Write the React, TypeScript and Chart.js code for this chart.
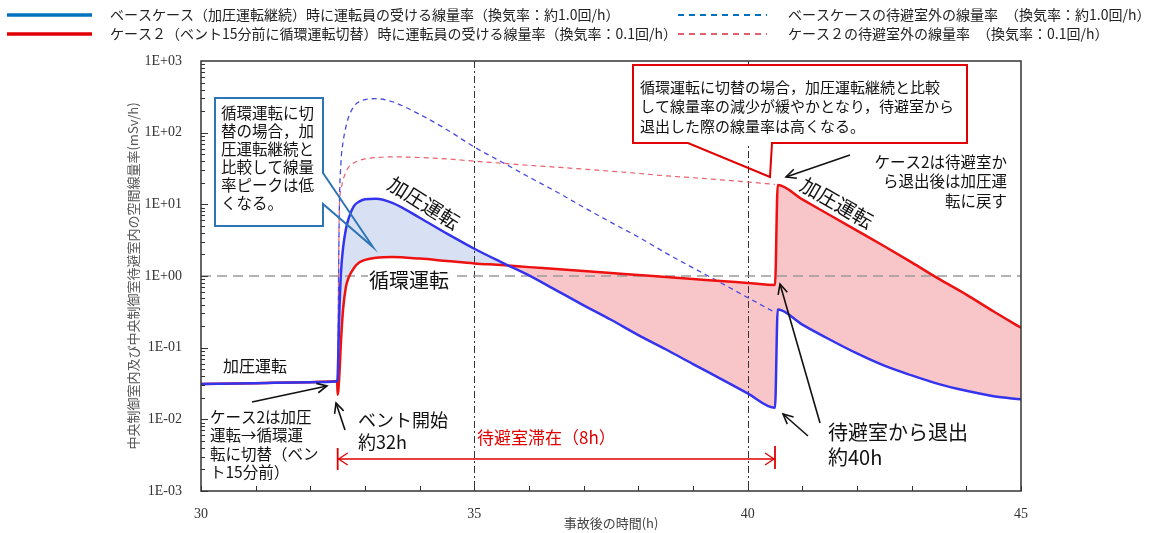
import React, { useEffect, useRef } from "react";
import { Chart, registerables } from "chart.js";

Chart.register(...registerables);

// ---- data (hours after accident, dose rate mSv/h) ----
const hours = [30, 31, 32, 32.49, 32.5, 32.53, 32.56, 32.6, 32.65, 32.7, 32.8, 32.9, 33.0, 33.2, 33.5, 34.0, 34.5, 35.0, 35.5, 36.0, 36.5, 37.0, 37.5, 38.0, 38.5, 39.0, 39.5, 40.0, 40.5, 40.55, 41.0, 41.5, 42.0, 42.5, 43.0, 43.5, 44.0, 44.5, 45.0];

const baseCaseInside = [0.031, 0.032, 0.033, 0.034, 0.04, 0.3, 1.1, 2.5, 4.5, 6.3, 9.5, 11, 11.8, 12.0, 10.5, 6.5, 3.9, 2.4, 1.55, 1.02, 0.63, 0.39, 0.245, 0.15, 0.095, 0.059, 0.037, 0.023, 0.0145, 0.34, 0.21, 0.13, 0.083, 0.056, 0.041, 0.031, 0.025, 0.021, 0.019];

const case2Inside = [0.031, 0.032, 0.033, 0.034, 0.022, 0.04, 0.12, 0.35, 0.7, 0.95, 1.3, 1.55, 1.68, 1.8, 1.84, 1.75, 1.62, 1.5, 1.42, 1.33, 1.25, 1.17, 1.1, 1.03, 0.97, 0.91, 0.85, 0.8, 0.75, 18.6, 11.7, 7.1, 4.3, 2.6, 1.55, 0.91, 0.55, 0.32, 0.19];

const baseCaseOutside = [null, null, null, null, 0.034, 8, 38, 75, 120, 165, 235, 272, 290, 298, 270, 180, 110, 63, 39, 24, 15, 9.1, 5.6, 3.5, 2.1, 1.3, 0.81, 0.5, 0.31, null, null, null, null, null, null, null, null, null, null];

const case2Outside = [null, null, null, null, 0.03, 8, 16, 22, 28, 33, 38, 41, 43, 45, 46, 45, 43, 40, 37.5, 35, 33, 31, 29, 27, 25, 23.5, 22, 20.5, 19, null, null, null, null, null, null, null, null, null, null];

const seriesLabels = [
  "ベースケース（加圧運転継続）時に運転員の受ける線量率（換気率：約1.0回/h）",
  "ケース２（ベント15分前に循環運転切替）時に運転員の受ける線量率（換気率：0.1回/h）",
  "ベースケースの待避室外の線量率　（換気率：約1.0回/h）",
  "ケース２の待避室外の線量率　（換気率：0.1回/h）",
];

const xTickValues = [30, 35, 40, 45];
const yTickValues = [1e-3, 1e-2, 1e-1, 1, 10, 100, 1000];
const yTickLabels = ["1E-03", "1E-02", "1E-01", "1E+00", "1E+01", "1E+02", "1E+03"];
const xTitle = "事故後の時間(h)";
const yTitle = "中央制御室内及び中央制御室待避室内の空間線量率(mSv/h)";
const refLinesX = [35, 40];
const refLineY = 1;
const ventStart = 32.5;
const exitTime = 40.5;

const JP = '"Noto Sans CJK JP", "Noto Sans", sans-serif';
const SERIF = '"Liberation Serif", "DejaVu Serif", serif';

function seg(ctx: CanvasRenderingContext2D, x1: number, y1: number, x2: number, y2: number) {
  ctx.beginPath();
  ctx.moveTo(x1, y1);
  ctx.lineTo(x2, y2);
  ctx.stroke();
}

function arrow(ctx: CanvasRenderingContext2D, x1: number, y1: number, x2: number, y2: number, color = "#111", w = 1.6, head = 11) {
  ctx.save();
  ctx.strokeStyle = color;
  ctx.lineWidth = w;
  ctx.setLineDash([]);
  seg(ctx, x1, y1, x2, y2);
  const a = Math.atan2(y2 - y1, x2 - x1);
  const s = 0.45;
  ctx.beginPath();
  ctx.moveTo(x2 - head * Math.cos(a - s), y2 - head * Math.sin(a - s));
  ctx.lineTo(x2, y2);
  ctx.lineTo(x2 - head * Math.cos(a + s), y2 - head * Math.sin(a + s));
  ctx.stroke();
  ctx.restore();
}

function lines(ctx: CanvasRenderingContext2D, arr: string[], x: number, y0: number, step: number) {
  arr.forEach((t, i) => ctx.fillText(t, x, y0 + i * step));
}

const decor = {
  id: "decor",
  beforeDatasetsDraw(chart: any) {
    const { ctx, chartArea: a, scales } = chart;
    const x = scales.x, y = scales.y;
    ctx.save();
    ctx.strokeStyle = "#333";
    ctx.lineWidth = 1;
    ctx.setLineDash([7, 3, 2, 3]);
    refLinesX.forEach((v) => {
      const px = Math.round(x.getPixelForValue(v)) + 0.5;
      seg(ctx, px, a.top, px, a.bottom);
    });
    ctx.strokeStyle = "#9a9a9a";
    ctx.lineWidth = 1.5;
    ctx.setLineDash([10, 6]);
    const py = y.getPixelForValue(refLineY);
    seg(ctx, a.left, py, a.right, py);
    ctx.restore();
  },
  afterDraw(chart: any) {
    const { ctx, chartArea: a, scales } = chart;
    const x = scales.x, y = scales.y;
    ctx.save();
    // frame
    ctx.setLineDash([]);
    ctx.strokeStyle = "#333";
    ctx.lineWidth = 1.5;
    ctx.strokeRect(a.left, a.top, a.right - a.left, a.bottom - a.top);
    // inward ticks on y
    ctx.lineWidth = 1;
    for (let d = -3; d <= 2; d++) {
      for (let m = 1; m <= 9; m++) {
        const v = m * Math.pow(10, d);
        const py = Math.round(y.getPixelForValue(v)) + 0.5;
        const len = m === 1 ? 7 : 4;
        seg(ctx, a.left, py, a.left + len, py);
      }
    }
    // inward ticks on x
    for (let h = 30; h <= 45; h++) {
      const px = Math.round(x.getPixelForValue(h)) + 0.5;
      seg(ctx, px, a.bottom, px, a.bottom - 5);
    }

    // ---- legend ----
    const legendRows = [
      { y: 15, solid: "#0070c0", dash: "#0070c0", left: seriesLabels[0], right: seriesLabels[2] },
      { y: 34, solid: "#e00000", dash: "#e06070", left: seriesLabels[1], right: seriesLabels[3] },
    ];
    ctx.font = `14px ${JP}`;
    ctx.textBaseline = "middle";
    ctx.textAlign = "left";
    legendRows.forEach((r) => {
      ctx.setLineDash([]);
      ctx.strokeStyle = r.solid;
      ctx.lineWidth = 3.5;
      seg(ctx, 7, r.y, 92, r.y);
      ctx.fillStyle = "#222";
      ctx.fillText(r.left, 110, r.y);
      ctx.strokeStyle = r.dash;
      ctx.lineWidth = 2;
      ctx.setLineDash([6, 5]);
      seg(ctx, 678, r.y, 767, r.y);
      ctx.setLineDash([]);
      ctx.fillText(r.right, 788, r.y);
    });

    // ---- blue callout ----
    ctx.setLineDash([]);
    ctx.fillStyle = "#fff";
    ctx.fillRect(215, 98, 108, 128);
    ctx.strokeStyle = "#2e75b6";
    ctx.lineWidth = 2;
    ctx.beginPath();
    ctx.moveTo(215, 98);
    ctx.lineTo(323, 98);
    ctx.lineTo(323, 173);
    ctx.lineTo(373, 247);
    ctx.lineTo(323, 204);
    ctx.lineTo(323, 226);
    ctx.lineTo(215, 226);
    ctx.closePath();
    ctx.stroke();
    ctx.fillStyle = "#111";
    ctx.font = `15.5px ${JP}`;
    ctx.textBaseline = "middle";
    lines(ctx, ["循環運転に切", "替の場合，加", "圧運転継続と", "比較して線量", "率ピークは低", "くなる。"], 221, 113, 18);

    // ---- red callout ----
    ctx.fillStyle = "#fff";
    ctx.fillRect(633, 65, 334, 78);
    ctx.strokeStyle = "#e00000";
    ctx.beginPath();
    ctx.moveTo(633, 65);
    ctx.lineTo(967, 65);
    ctx.lineTo(967, 143);
    ctx.lineTo(772, 143);
    ctx.lineTo(770, 177);
    ctx.lineTo(688, 143);
    ctx.lineTo(633, 143);
    ctx.closePath();
    ctx.stroke();
    ctx.fillStyle = "#111";
    ctx.font = `15px ${JP}`;
    lines(ctx, ["循環運転に切替の場合，加圧運転継続と比較", "して線量率の減少が緩やかとなり，待避室から", "退出した際の線量率は高くなる。"], 640, 87, 19.5);

    // ---- right note ----
    ctx.textAlign = "right";
    ctx.font = `15.5px ${JP}`;
    lines(ctx, ["ケース2は待避室か", "ら退出後は加圧運", "転に戻す"], 1007, 162, 19.5);
    arrow(ctx, 850, 155, 786, 177);

    // rotated labels
    const rot = (t: string, cx: number, cy: number, deg: number, size: number) => {
      ctx.save();
      ctx.translate(cx, cy);
      ctx.rotate((deg * Math.PI) / 180);
      ctx.textAlign = "center";
      ctx.textBaseline = "middle";
      ctx.font = `${size}px ${JP}`;
      ctx.fillStyle = "#111";
      ctx.fillText(t, 0, 0);
      ctx.restore();
    };
    rot("加圧運転", 424, 203, 32, 20);
    rot("加圧運転", 837, 203, 30, 20);

    // 循環運転 with white background
    ctx.textAlign = "center";
    ctx.font = `20px ${JP}`;
    ctx.fillStyle = "#fff";
    ctx.fillRect(368, 268, 83, 24);
    ctx.fillStyle = "#111";
    ctx.fillText("循環運転", 409, 280);

    // left labels
    ctx.textAlign = "left";
    ctx.font = `16px ${JP}`;
    ctx.fillText("加圧運転", 223, 366);
    ctx.font = `15.5px ${JP}`;
    lines(ctx, ["ケース2は加圧", "運転→循環運", "転に切替（ベン", "ト15分前）"], 210, 417, 18.5);
    arrow(ctx, 252, 402, 327, 386);

    // vent start
    ctx.font = `18px ${JP}`;
    ctx.fillText("ベント開始", 358, 420);
    ctx.fillText("約32h", 358, 442);
    arrow(ctx, 345, 430, 336, 403);

    // stay span arrow
    const xs = x.getPixelForValue(ventStart);
    const xe = x.getPixelForValue(exitTime);
    const ya = 459;
    ctx.strokeStyle = "#e00000";
    ctx.lineWidth = 1.3;
    seg(ctx, xs, ya, xe, ya);
    ctx.lineWidth = 1.8;
    seg(ctx, xs, 448, xs, 470);
    seg(ctx, xe, 446, xe, 469);
    ctx.lineWidth = 1.3;
    ctx.beginPath();
    ctx.moveTo(xs + 10, ya - 6);
    ctx.lineTo(xs + 1, ya);
    ctx.lineTo(xs + 10, ya + 6);
    ctx.moveTo(xe - 10, ya - 6);
    ctx.lineTo(xe - 1, ya);
    ctx.lineTo(xe - 10, ya + 6);
    ctx.stroke();
    ctx.fillStyle = "#e00000";
    ctx.font = `17px ${JP}`;
    ctx.fillText("待避室滞在（8h）", 477, 438);

    // exit label
    ctx.fillStyle = "#111";
    ctx.font = `20px ${JP}`;
    ctx.fillText("待避室から退出", 828, 432);
    ctx.fillText("約40h", 828, 457);
    arrow(ctx, 808, 436, 783, 414);
    arrow(ctx, 820, 423, 780, 284);

    ctx.restore();
  },
};

export default function App() {
  const ref = useRef<HTMLCanvasElement>(null);
  useEffect(() => {
    const canvas = ref.current;
    if (!canvas) return;
    const mk = (arr: (number | null)[]) => hours.map((h, i) => ({ x: h, y: arr[i] }));
    const chart = new Chart(canvas, {
      type: "line",
      data: {
        datasets: [
          {
            label: seriesLabels[0],
            data: mk(baseCaseInside) as any,
            borderColor: "#3434ee",
            borderWidth: 2.5,
            pointRadius: 0,
            cubicInterpolationMode: "monotone",
            fill: { target: 1, above: "rgba(205,218,240,0.8)", below: "rgba(244,160,165,0.6)" } as any,
          },
          {
            label: seriesLabels[1],
            data: mk(case2Inside) as any,
            borderColor: "#ee1111",
            borderWidth: 2.5,
            pointRadius: 0,
            cubicInterpolationMode: "monotone",
            fill: false,
          },
          {
            label: seriesLabels[2],
            data: mk(baseCaseOutside) as any,
            borderColor: "#4a4ae2",
            borderWidth: 1.3,
            borderDash: [5, 4],
            pointRadius: 0,
            cubicInterpolationMode: "monotone",
            fill: false,
          },
          {
            label: seriesLabels[3],
            data: mk(case2Outside) as any,
            borderColor: "#e8606e",
            borderWidth: 1.2,
            borderDash: [5, 4],
            pointRadius: 0,
            cubicInterpolationMode: "monotone",
            fill: false,
          },
        ],
      },
      options: {
        animation: false,
        responsive: true,
        maintainAspectRatio: false,
        parsing: false as any,
        layout: { padding: { left: 0, top: 61, right: 143, bottom: 0 } },
        plugins: {
          legend: { display: false },
          tooltip: { enabled: false },
          filler: { drawTime: "beforeDatasetsDraw" } as any,
        },
        scales: {
          x: {
            type: "linear",
            min: 30,
            max: 45,
            grid: { display: false },
            border: { display: false },
            afterFit: (s: any) => { s.height = 42; },
            afterBuildTicks: (s: any) => { s.ticks = xTickValues.map((v) => ({ value: v })); },
            ticks: {
              autoSkip: false,
              padding: 7,
              color: "#333",
              font: { family: SERIF, size: 14 },
              callback: (v: any) => String(v),
            },
            title: {
              display: true,
              text: xTitle,
              color: "#444",
              font: { family: JP, size: 13 },
              padding: { top: 0, bottom: 2 },
            },
          },
          y: {
            type: "logarithmic",
            min: 1e-3,
            max: 1e3,
            grid: { display: false },
            border: { display: false },
            afterFit: (s: any) => { s.width = 201; },
            afterBuildTicks: (s: any) => { s.ticks = yTickValues.map((v) => ({ value: v })); },
            ticks: {
              autoSkip: false,
              padding: 11,
              color: "#333",
              font: { family: SERIF, size: 14 },
              callback: (_v: any, i: number) => yTickLabels[i],
            },
            title: {
              display: true,
              text: yTitle,
              color: "#555",
              font: { family: JP, size: 13 },
              padding: { top: 125, bottom: 0 },
            },
          },
        },
      },
      plugins: [decor],
    });
    return () => chart.destroy();
  }, []);
  return (
    <div style={{ position: "fixed", left: 0, top: 0, width: 1164, height: 533, background: "#fff" }}>
      <canvas ref={ref} />
    </div>
  );
}
